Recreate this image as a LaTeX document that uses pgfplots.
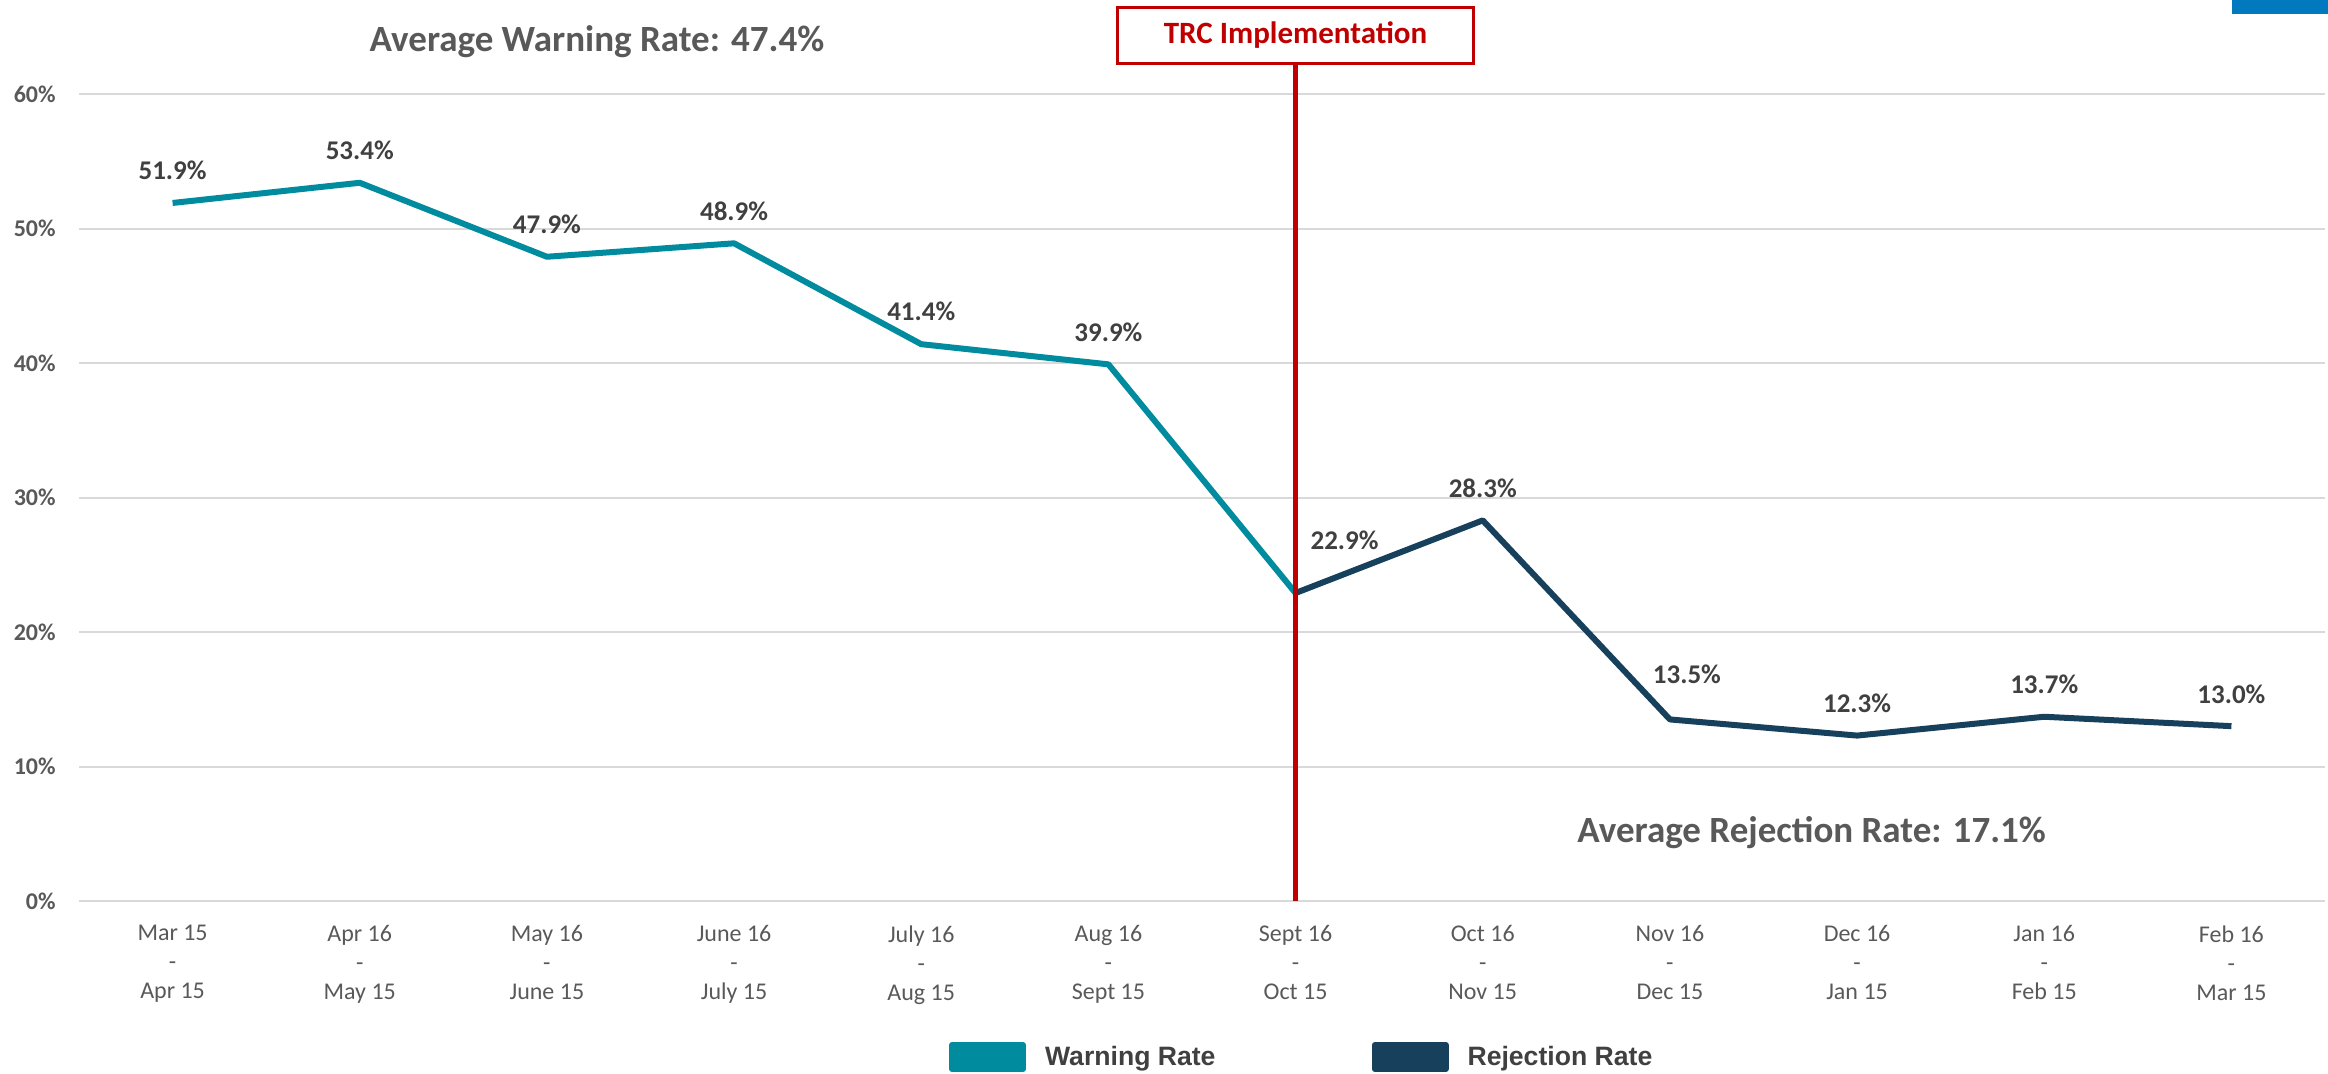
\documentclass[border=0pt]{standalone}
\usepackage{fontspec}
\setmainfont{Carlito}
\newfontfamily\legfont{Liberation Sans}
\usepackage{pgfplots}
\pgfplotsset{compat=1.18}
\definecolor{warn}{HTML}{008B9E}
\definecolor{rej}{HTML}{16405B}
\definecolor{trc}{HTML}{C00000}
\definecolor{txt}{HTML}{595959}
\definecolor{lab}{HTML}{404040}
\definecolor{gridc}{HTML}{D9D9D9}
\definecolor{topblue}{HTML}{0079BE}
\begin{document}
\begin{tikzpicture}
\path[use as bounding box] (-39.5pt,-86pt) rectangle (1124.5pt,450.5pt);
\begin{axis}[
  at={(0pt,0pt)}, anchor=south west,
  scale only axis, width=1123pt, height=403.5pt,
  xmin=-0.5, xmax=11.5, ymin=0, ymax=60,
  clip=false,
  xtick={0,...,11},
  xticklabels={{Mar 15\\-\\Apr 15},{Apr 16\\-\\May 15},{May 16\\-\\June 15},{June 16\\-\\July 15},{July 16\\-\\Aug 15},{Aug 16\\-\\Sept 15},{Sept 16\\-\\Oct 15},{Oct 16\\-\\Nov 15},{Nov 16\\-\\Dec 15},{Dec 16\\-\\Jan 15},{Jan 16\\-\\Feb 15},{Feb 16\\-\\Mar 15}},
  xticklabel style={align=center, anchor=north, inner sep=0pt, yshift=-12pt, text=txt, font=\fontsize{12}{14.5}\selectfont},
  ytick={0,10,...,60},
  yticklabels={0\%,10\%,20\%,30\%,40\%,50\%,60\%},
  yticklabel style={anchor=east, inner sep=0pt, xshift=-11.5pt, text=txt, font=\bfseries\fontsize{12}{14}\selectfont},
  ymajorgrids, grid style={gridc, line width=1pt},
  axis line style={draw=none}, major tick length=0pt,
  legend image code/.code={\fill[#1] (0pt,-6pt) rectangle (35.5pt,6pt);},
  legend columns=2,
  legend style={at={(axis description cs:0.3874,-0.1933)}, anchor=west, draw=none, fill=none, inner sep=0pt, outer sep=0pt,
    font=\legfont\bfseries\fontsize{13.3}{15}\selectfont, text=lab,
    nodes={inner sep=0pt},
    /tikz/every odd column/.append style={column sep=9.5pt},
    /tikz/every even column/.append style={column sep=78pt}},
]
\addplot[warn, line width=3pt, line join=round] coordinates {(0,51.9)(1,53.4)(2,47.9)(3,48.9)(4,41.4)(5,39.9)(6,22.9)};
\addlegendentry{Warning Rate}
\addplot[rej, line width=3pt, line join=round] coordinates {(6,22.9)(7,28.3)(8,13.5)(9,12.3)(10,13.7)(11,13.0)};
\addlegendentry{Rejection Rate}
\draw[trc, line width=2.5pt] (axis cs:6,0) -- ([yshift=15pt]axis cs:6,60);
\node[draw=trc, line width=1.5pt, fill=white, minimum width=178pt, minimum height=28pt, text=trc, font=\bfseries\fontsize{15.5}{18}\selectfont] at ([yshift=29.5pt]axis cs:6,60) {TRC Implementation};
\tikzset{dl/.style={text=lab, font=\bfseries\fontsize{13.5}{15}\selectfont, inner sep=0pt}}
\node[dl, yshift=16.25pt] at (axis cs:0,51.9) {51.9\%};
\node[dl, yshift=16.25pt] at (axis cs:1,53.4) {53.4\%};
\node[dl, yshift=16.25pt] at (axis cs:2,47.9) {47.9\%};
\node[dl, yshift=16.25pt] at (axis cs:3,48.9) {48.9\%};
\node[dl, yshift=16.25pt] at (axis cs:4,41.4) {41.4\%};
\node[dl, yshift=16.25pt] at (axis cs:5,39.9) {39.9\%};
\node[dl, xshift=24.5pt, yshift=26.5pt] at (axis cs:6,22.9) {22.9\%};
\node[dl, yshift=16.25pt] at (axis cs:7,28.3) {28.3\%};
\node[dl, xshift=8.5pt, yshift=22.5pt] at (axis cs:8,13.5) {13.5\%};
\node[dl, yshift=16.25pt] at (axis cs:9,12.3) {12.3\%};
\node[dl, yshift=16pt] at (axis cs:10,13.7) {13.7\%};
\node[dl, yshift=16pt] at (axis cs:11,13.0) {13.0\%};
\end{axis}
\node[text=txt, font=\bfseries\fontsize{18.5}{22}\selectfont, inner sep=0pt] at (259pt,429.5pt) {Average Warning Rate: 47.4\%};
\node[text=txt, font=\bfseries\fontsize{18.5}{22}\selectfont, inner sep=0pt, anchor=west] at (749pt,34pt) {Average Rejection Rate: 17.1\%};
\fill[topblue] (1076.5pt,443.5pt) rectangle (1124.5pt,450.5pt);
\end{tikzpicture}
\end{document}
